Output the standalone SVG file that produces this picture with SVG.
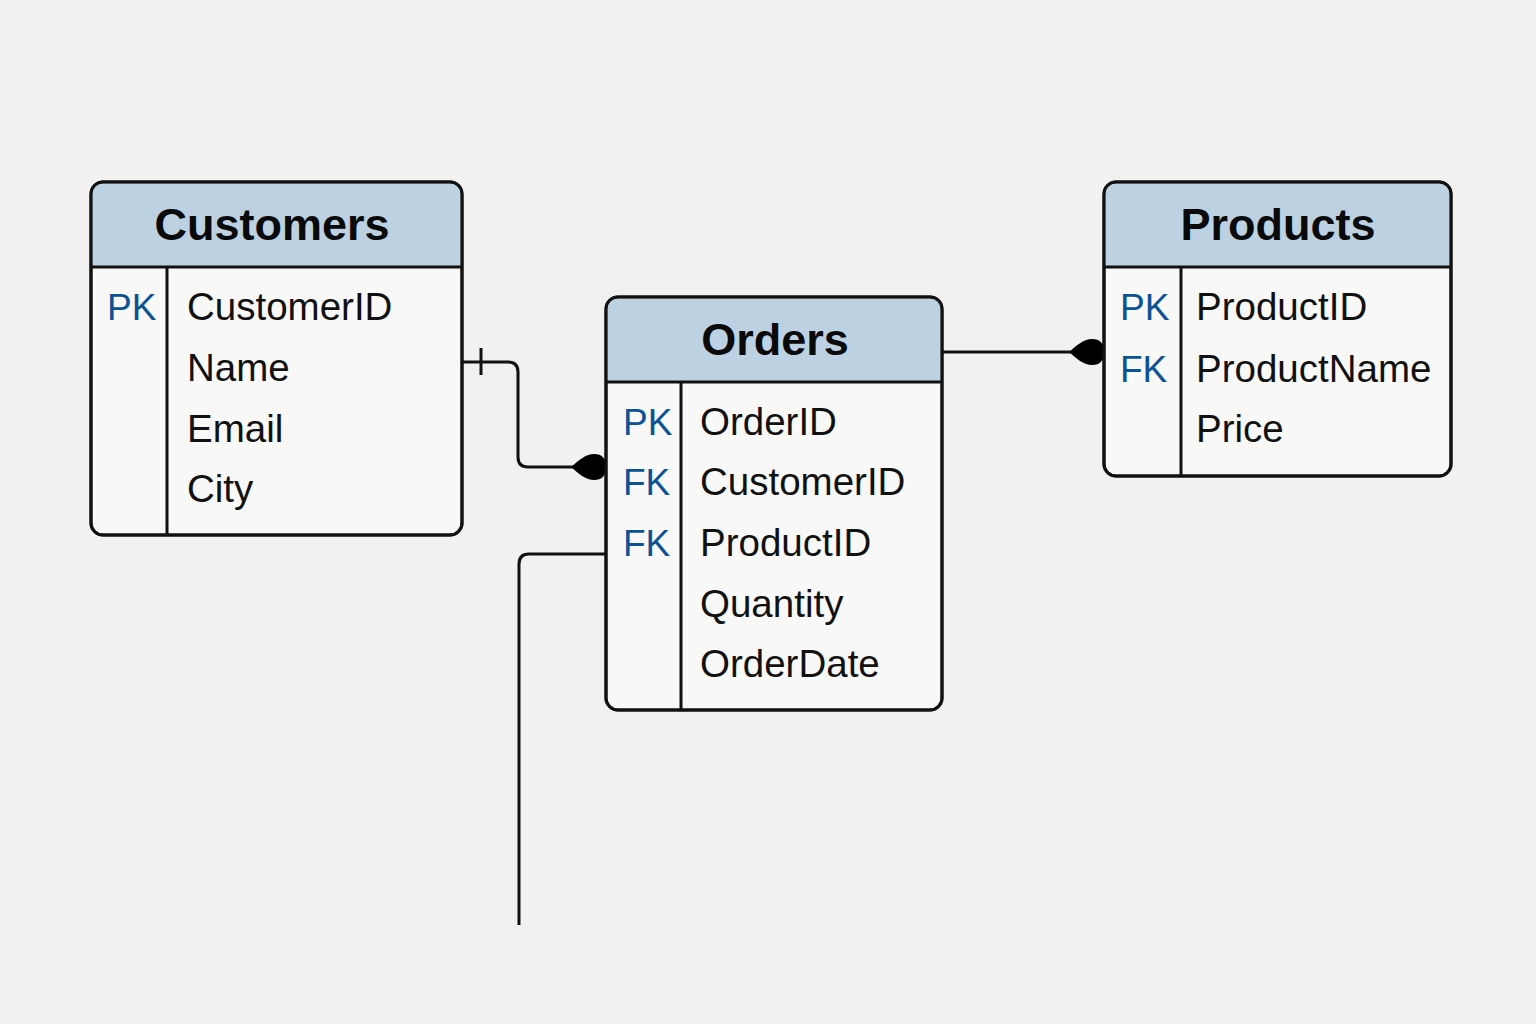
<svg xmlns="http://www.w3.org/2000/svg" width="1536" height="1024" viewBox="0 0 1536 1024">
  <defs>
    <style>
      .body { fill: #f8f8f7; stroke: #111; stroke-width: 3; }
      .head { fill: #bcd2e2; }
      .rule { stroke: #111; stroke-width: 3; fill: none; }
      .title { font-family: "Liberation Sans", Arial, sans-serif; font-weight: bold; font-size: 45px; fill: #0a0a0a; text-anchor: middle; }
      .field { font-family: "Liberation Sans", Arial, sans-serif; font-size: 38.5px; fill: #111; }
      .key { font-family: "Liberation Sans", Arial, sans-serif; font-size: 37px; fill: #0b5394; }
      .wire { stroke: #111; stroke-width: 3; fill: none; stroke-linecap: butt; }
      .blob { fill: #000; }
    </style>
    <!-- lens-shaped "many" end, pointing left, right side at origin -->
    <path id="lens" d="M-35,0 C-27,-7 -20,-13 -12,-13 Q0,-13 0,0 Q0,13 -12,13 C-20,13 -27,7 -35,0 Z"/>
  </defs>

  <rect width="1536" height="1024" fill="#f2f1ef"/>

  <!-- relationship lines -->
  <g id="connectors">
    <path class="wire" d="M462,362 H508 Q518,362 518,372 V457 Q518,467 528,467 H606"/>
    <line class="wire" x1="481" y1="348" x2="481" y2="375"/>
    <use href="#lens" class="blob" x="606" y="467"/>
    <path class="wire" d="M606,554 H529 Q519,554 519,564 V925"/>
    <line class="wire" x1="942" y1="352" x2="1103" y2="352"/>
    <use href="#lens" class="blob" x="1104" y="352"/>
  </g>

  <!-- Customers table -->
  <g id="customers">
    <rect class="body" x="91" y="182" width="371" height="353" rx="12"/>
    <path class="head" d="M103,183.5 H450 Q460.5,183.5 460.5,194 V266 H92.5 V194 Q92.5,183.5 103,183.5 Z"/>
    <rect x="91" y="182" width="371" height="353" rx="12" fill="none" stroke="#111" stroke-width="3"/>
    <line class="rule" x1="91" y1="267" x2="462" y2="267"/>
    <line class="rule" x1="167" y1="267" x2="167" y2="535"/>
    <text class="title" x="272" y="240">Customers</text>
    <text class="key" x="107" y="320">PK</text>
    <text class="field" x="187" y="320">CustomerID</text>
    <text class="field" x="187" y="381">Name</text>
    <text class="field" x="187" y="442">Email</text>
    <text class="field" x="187" y="502">City</text>
  </g>

  <!-- Orders table -->
  <g id="orders">
    <rect class="body" x="606" y="297" width="336" height="413" rx="12"/>
    <path class="head" d="M618,298.5 H930 Q940.5,298.5 940.5,309 V381 H607.5 V309 Q607.5,298.5 618,298.5 Z"/>
    <rect x="606" y="297" width="336" height="413" rx="12" fill="none" stroke="#111" stroke-width="3"/>
    <line class="rule" x1="606" y1="382" x2="942" y2="382"/>
    <line class="rule" x1="681" y1="382" x2="681" y2="710"/>
    <text class="title" x="775" y="355">Orders</text>
    <text class="key" x="623" y="435">PK</text>
    <text class="field" x="700" y="435">OrderID</text>
    <text class="key" x="623" y="495">FK</text>
    <text class="field" x="700" y="495">CustomerID</text>
    <text class="key" x="623" y="556">FK</text>
    <text class="field" x="700" y="556">ProductID</text>
    <text class="field" x="700" y="617">Quantity</text>
    <text class="field" x="700" y="677">OrderDate</text>
  </g>

  <!-- Products table -->
  <g id="products">
    <rect class="body" x="1104" y="182" width="347" height="294" rx="12"/>
    <path class="head" d="M1116,183.5 H1439 Q1449.5,183.5 1449.5,194 V266 H1105.5 V194 Q1105.5,183.5 1116,183.5 Z"/>
    <rect x="1104" y="182" width="347" height="294" rx="12" fill="none" stroke="#111" stroke-width="3"/>
    <line class="rule" x1="1104" y1="267" x2="1451" y2="267"/>
    <line class="rule" x1="1181" y1="267" x2="1181" y2="476"/>
    <text class="title" x="1278" y="240">Products</text>
    <text class="key" x="1120" y="320">PK</text>
    <text class="field" x="1196" y="320">ProductID</text>
    <text class="key" x="1120" y="382">FK</text>
    <text class="field" x="1196" y="382">ProductName</text>
    <text class="field" x="1196" y="442">Price</text>
  </g>
</svg>
